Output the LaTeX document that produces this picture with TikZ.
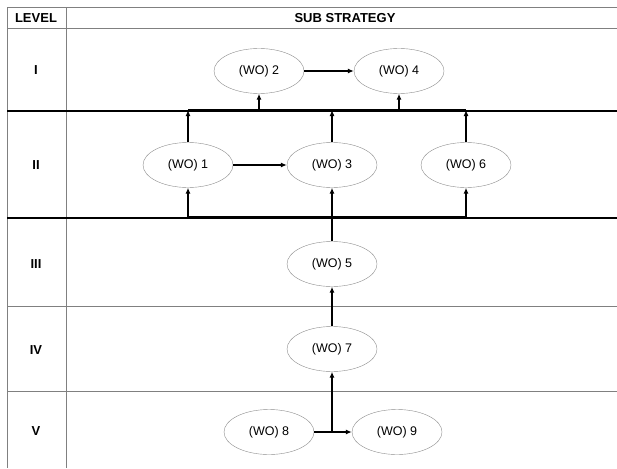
\documentclass[tikz,border=0pt]{standalone}
\usepackage{fontspec}
\setmainfont{Liberation Sans}
\usetikzlibrary{
    arrows.meta,
    shapes.geometric,
    positioning
}
\tikzset{
    wo/.style={draw=black!45, ellipse, minimum width=90pt, minimum height=45pt, inner sep=0pt, font=\fontsize{12.5}{14}\selectfont},
    lvl/.style={font=\bfseries\fontsize{13}{15}\selectfont},
    grid/.style={draw=black!50, line width=1pt},
    rowline/.style={draw=black, line width=1.3pt},
    bus/.style={draw=black, line width=2pt},
    arr/.style={draw=black, line width=1.6pt, -{Latex[length=6pt,width=5pt]}}
}

\begin{document}
\begin{tikzpicture}[x=1pt, y=-1pt]
                        \useasboundingbox (0, 0) rectangle (617, 468);
                        % table
                        \draw[grid] (7, 8) -- (617, 8);
                        \draw[grid] (7, 29) -- (617, 29);
                        \draw[grid] (7, 8) -- (7, 468);
                        \draw[grid] (66, 8) -- (66, 468);
                        \draw[rowline] (7, 111) -- (617, 111);
                        \draw[rowline] (7, 218) -- (617, 218);
                        \draw[grid] (7, 306) -- (617, 306);
                        \draw[grid] (7, 391) -- (617, 391);
                        \node[lvl] (hlevel) at (36, 18) {LEVEL};
                        \node[lvl] (hsub) at (345, 18) {SUB STRATEGY};
                        \node[lvl] (lv1) at (36, 70) {I};
                        \node[lvl] (lv2) at (36, 165) {II};
                        \node[lvl] (lv3) at (36, 264) {III};
                        \node[lvl] (lv4) at (36, 350) {IV};
                        \node[lvl] (lv5) at (36, 431) {V};
                        % sub strategies
                        \node[wo] (wo2) at (259, 71) {(WO) 2};
                        \node[wo] (wo4) at (399, 71) {(WO) 4};
                        \node[wo] (wo1) at (188, 165) {(WO) 1};
                        \node[wo] (wo3) at (332, 165) {(WO) 3};
                        \node[wo] (wo6) at (466, 165) {(WO) 6};
                        \node[wo] (wo5) at (332, 264) {(WO) 5};
                        \node[wo] (wo7) at (332, 349) {(WO) 7};
                        \node[wo] (wo8) at (269, 432) {(WO) 8};
                        \node[wo] (wo9) at (397, 432) {(WO) 9};
                        \coordinate (busup) at (0, 110);
                        \coordinate (buslow) at (0, 217);
                        \coordinate (split) at (wo7.south |- wo8.east);
                        % connectors
                        \draw[arr] (wo2) -- (wo4);
                        \draw[arr] (wo1) -- (wo3);
                        \draw[bus] (wo1.north |- busup) -- (wo6.north |- busup);
                        \draw[bus] (wo1.south |- buslow) -- (wo6.south |- buslow);
                        \draw[arr] (wo1.north) -- (wo1.north |- busup);
                        \draw[arr] (wo3.north) -- (wo3.north |- busup);
                        \draw[arr] (wo6.north) -- (wo6.north |- busup);
                        \draw[arr] (wo2.south |- busup) -- (wo2.south);
                        \draw[arr] (wo4.south |- busup) -- (wo4.south);
                        \draw[arr] (wo1.south |- buslow) -- (wo1.south);
                        \draw[arr] (wo6.south |- buslow) -- (wo6.south);
                        \draw[arr] (wo5.north) -- (wo3.south);
                        \draw[arr] (wo7.north) -- (wo5.south);
                        \draw[arr] (wo8.east) -- (wo9.west);
                        \draw[arr] (split) -- (wo7.south);
                    \end{tikzpicture}
\end{document}
